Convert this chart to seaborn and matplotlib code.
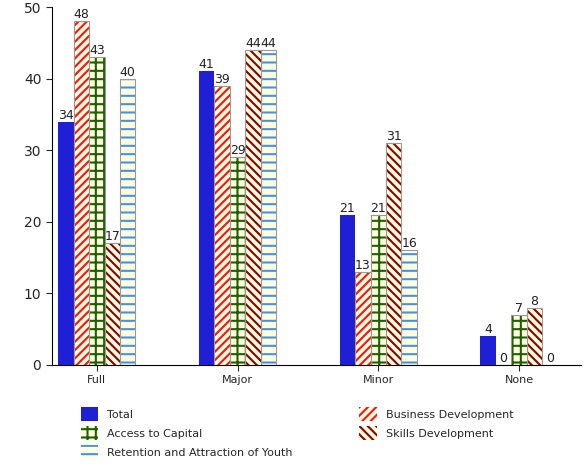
import pandas as pd
import seaborn as sns
import matplotlib.pyplot as plt
from matplotlib.patches import Patch

categories = ['Full', 'Major', 'Minor', 'None']
series = ['Total', 'Business Development', 'Access to Capital',
          'Skills Development', 'Retention and Attraction of Youth']
total = [34, 41, 21, 4]
business = [48, 39, 13, 0]
capital = [43, 29, 21, 7]
skills = [17, 44, 31, 8]
youth = [40, 44, 16, 0]

rows = []
for name, vals in zip(series, [total, business, capital, skills, youth]):
    for c, v in zip(categories, vals):
        rows.append({'cat': c, 'series': name, 'value': v})
df = pd.DataFrame(rows)

styles = {
    'Total': dict(face='#1f1fd6', edge='#1f1fd6', hatch=''),
    'Business Development': dict(face='#ffffe0', edge='#ff1010', hatch='////'),
    'Access to Capital': dict(face='#ffffe0', edge='#1f5f00', hatch='++'),
    'Skills Development': dict(face='#ffffe0', edge='#8b0000', hatch='\\\\\\\\'),
    'Retention and Attraction of Youth': dict(face='#ffffe0', edge='#4a90e2', hatch='--'),
}

sns.set_style('white')
plt.rcParams['hatch.linewidth'] = 1.5
fig = plt.figure(figsize=(5.88, 4.69), dpi=100)
ax = fig.add_axes([0.088, 0.222, 0.9, 0.763])
sns.barplot(data=df, x='cat', y='value', hue='series', hue_order=series,
            width=0.55, ax=ax, legend=False, palette=['#1f1fd6'] * 5)

for i, name in enumerate(series):
    cont = ax.containers[i]
    st = styles[name]
    for bar in cont:
        bar.set_facecolor(st['face'])
        bar.set_hatch(st['hatch'])
        bar.set_edgecolor(st['edge'])
        bar.set_linewidth(0)
    ax.bar_label(cont, fontsize=9, padding=0, color='#222222')
    if st['hatch']:
        for bar in cont:
            ax.add_patch(plt.Rectangle(bar.get_xy(), bar.get_width(), bar.get_height(),
                                       fill=False, edgecolor='#999999', lw=0.8))

ax.set_ylim(0, 50)
ax.set_yticks(range(0, 51, 10))
ax.set_xlim(-0.32, 3.44)
ax.set_xlabel('')
ax.set_ylabel('')
ax.tick_params(labelsize=8, length=4, left=True, bottom=True)
ax.tick_params(axis='y', labelsize=10)
for s in ['top', 'right']:
    ax.spines[s].set_visible(False)
ax.spines['left'].set_color('black')
ax.spines['bottom'].set_color('black')

handles = [Patch(facecolor=styles[n]['face'], edgecolor=styles[n]['edge'],
                 hatch=styles[n]['hatch'], lw=0) for n in series]
order = [0, 2, 4, 1, 3]
fig.legend([handles[i] for i in order], [series[i] for i in order],
           loc='lower left', bbox_to_anchor=(0.12, 0.0), ncol=2, frameon=False,
           fontsize=8, columnspacing=6, handlelength=1.6, handleheight=1.5)

fig.savefig('out.png', dpi=100)
